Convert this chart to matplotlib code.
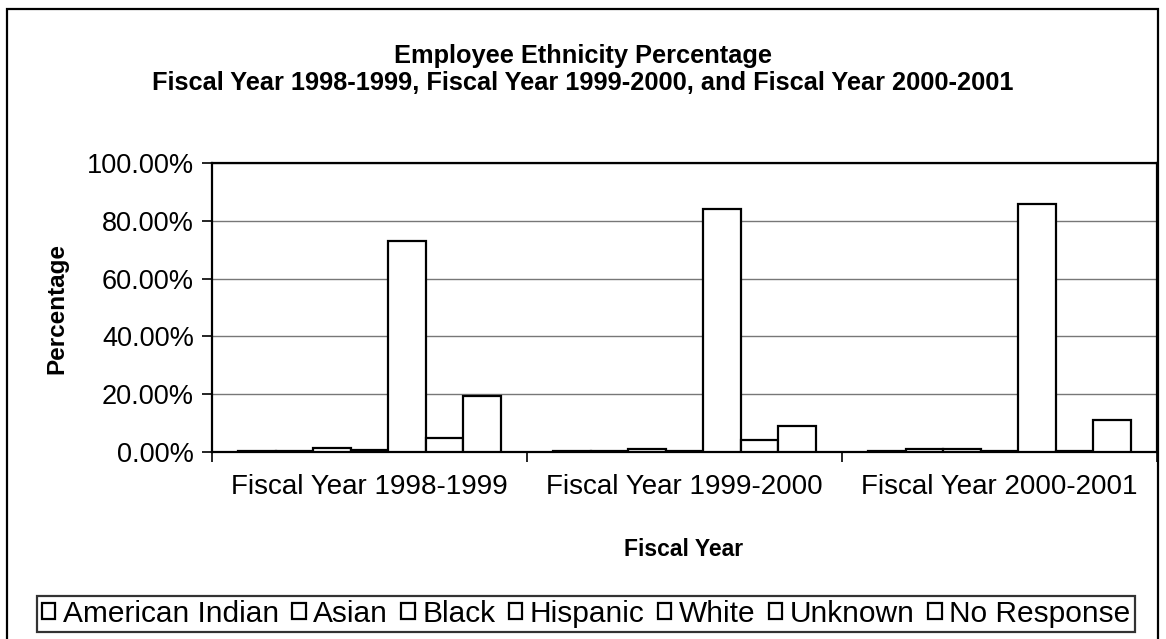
"""Employee ethnicity percentage by fiscal year: clustered bar chart, Excel-style."""
import numpy as np
import matplotlib
matplotlib.use("Agg")
import matplotlib.pyplot as plt
from matplotlib.patches import Rectangle
from matplotlib.ticker import FuncFormatter

plt.rcParams["font.family"] = ["Liberation Sans", "DejaVu Sans"]

years = ["Fiscal Year 1998-1999", "Fiscal Year 1999-2000", "Fiscal Year 2000-2001"]
groups = ["American Indian", "Asian", "Black", "Hispanic", "White", "Unknown", "No Response"]
american_indian = [0.2, 0.2, 0.2]
asian = [0.5, 0.4, 0.9]
black = [1.5, 0.9, 0.9]
hispanic = [0.6, 0.3, 0.3]
white = [73.1, 84.2, 85.9]
unknown = [4.8, 4.3, 0.4]
no_response = [19.3, 8.9, 11.2]
series = [american_indian, asian, black, hispanic, white, unknown, no_response]
yticks = [0, 20, 40, 60, 80, 100]

fig = plt.figure(figsize=(11.66, 6.39), dpi=100)
ax = fig.add_axes([212 / 1166, 1 - 452 / 639, (1157 - 212) / 1166, (452 - 163) / 639])

x = np.arange(len(years))
w = 0.119
for i, (name, vals) in enumerate(zip(groups, series)):
    ax.bar(x + (i - 3) * w, vals, width=w, color="white", edgecolor="black",
           linewidth=1.6, label=name, zorder=3)

ax.set_xlim(-0.5, 2.5)
ax.set_ylim(0, 100)
ax.set_yticks(yticks)
ax.yaxis.set_major_formatter(FuncFormatter(lambda v, p: f"{v:.2f}%"))
ax.yaxis.grid(True, color="#777", lw=1, zorder=0)
ax.set_xticks([-0.5, 0.5, 1.5, 2.5])
ax.set_xticklabels([])
ax.set_xticks(x, minor=True)
ax.set_xticklabels(years, minor=True)
ax.tick_params(axis="x", which="minor", length=0, pad=16, labelsize=20)
ax.tick_params(axis="x", which="major", length=7, width=1.2, direction="out")
ax.tick_params(axis="y", length=7, width=1.2, direction="out", pad=6, labelsize=19.5)
for s in ax.spines.values():
    s.set_linewidth(1.6)

fig.text(684 / 1166, 1 - 550 / 639, "Fiscal Year", ha="center", va="center",
         fontsize=16.5, weight="bold")
fig.text(57 / 1166, 1 - 308 / 639, "Percentage", rotation=90, ha="center", va="center",
         fontsize=17.5, weight="bold")
fig.text(583 / 1166, 1 - 56 / 639, "Employee Ethnicity Percentage", ha="center", va="center",
         fontsize=18.3, weight="bold")
fig.text(583 / 1166, 1 - 83 / 639,
         "Fiscal Year 1998-1999, Fiscal Year 1999-2000, and Fiscal Year 2000-2001",
         ha="center", va="center", fontsize=18.3, weight="bold")

leg = fig.legend(loc="center", bbox_to_anchor=(586 / 1166, 1 - 614 / 639), ncol=7,
                 fontsize=21.5, frameon=True, fancybox=False, edgecolor="black",
                 handlelength=0.45, handleheight=0.45, handletextpad=0.25, columnspacing=0.45,
                 borderpad=0.15, borderaxespad=0)
leg.get_frame().set_linewidth(1.6)

fig.patches.append(Rectangle((7 / 1166, -0.05), (1158 - 7) / 1166, 1 - 9 / 639 + 0.05,
                             transform=fig.transFigure, fill=False, edgecolor="black",
                             linewidth=1.6))

fig.savefig("out.png", dpi=100)
